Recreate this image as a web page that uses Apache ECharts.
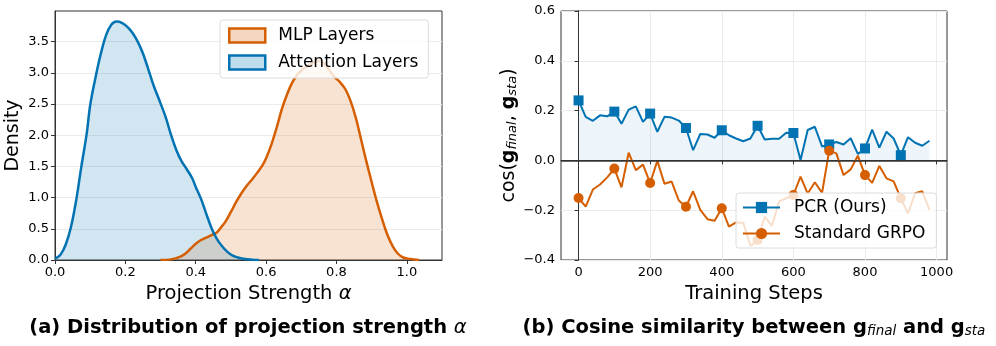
<!DOCTYPE html>
<html>
<head>
<meta charset="utf-8">
<script src="https://cdn.jsdelivr.net/npm/echarts@6/dist/echarts.min.js"></script>
<style>
  html, body { margin: 0; padding: 0; background: #fff; }
  #chart { width: 996px; height: 346px; }
</style>
</head>
<body>
<div id="chart"></div>
<script>
// (a) KDE of projection strength
var attnX = [0.0, 0.015, 0.03, 0.045, 0.06, 0.075, 0.09, 0.10, 0.115, 0.13, 0.145, 0.16, 0.175, 0.19, 0.205, 0.22, 0.235, 0.25, 0.265, 0.28, 0.30, 0.315, 0.33, 0.345, 0.36, 0.375, 0.39, 0.40, 0.415, 0.43, 0.445, 0.46, 0.475, 0.49, 0.505, 0.52, 0.54, 0.56, 0.58];
var attnDensity = [0.02, 0.08, 0.24, 0.52, 0.95, 1.50, 2.02, 2.48, 2.92, 3.30, 3.60, 3.77, 3.82, 3.80, 3.74, 3.64, 3.50, 3.31, 3.06, 2.80, 2.51, 2.28, 2.00, 1.76, 1.58, 1.45, 1.31, 1.17, 0.98, 0.74, 0.51, 0.34, 0.22, 0.13, 0.07, 0.04, 0.015, 0.005, 0.0];
var mlpX = [0.30, 0.33, 0.355, 0.37, 0.385, 0.40, 0.415, 0.43, 0.445, 0.46, 0.47, 0.485, 0.50, 0.515, 0.53, 0.545, 0.56, 0.575, 0.59, 0.60, 0.615, 0.63, 0.645, 0.66, 0.675, 0.69, 0.705, 0.72, 0.735, 0.75, 0.765, 0.78, 0.795, 0.81, 0.825, 0.84, 0.855, 0.87, 0.885, 0.90, 0.915, 0.93, 0.945, 0.96, 0.975, 0.99, 1.01, 1.035];
var mlpDensity = [0.0, 0.01, 0.05, 0.10, 0.18, 0.26, 0.32, 0.36, 0.40, 0.44, 0.51, 0.62, 0.77, 0.93, 1.07, 1.19, 1.29, 1.40, 1.52, 1.63, 1.85, 2.12, 2.42, 2.66, 2.85, 2.98, 3.06, 3.12, 3.16, 3.19, 3.15, 3.04, 2.93, 2.85, 2.74, 2.55, 2.28, 1.93, 1.58, 1.25, 0.93, 0.65, 0.40, 0.22, 0.10, 0.04, 0.015, 0.0];
var alphaTicks = [0, 0.2, 0.4, 0.6, 0.8, 1.0];
var densityTicks = [0, 0.5, 1.0, 1.5, 2.0, 2.5, 3.0, 3.5];

// (b) cosine similarity over training steps (every 20 steps)
var steps = [];
for (var s = 0; s <= 980; s += 20) steps.push(s);
var pcrCos = [0.241, 0.175, 0.159, 0.181, 0.177, 0.196, 0.147, 0.204, 0.217, 0.155,
              0.188, 0.115, 0.175, 0.172, 0.160, 0.130, 0.041, 0.106, 0.104, 0.091,
              0.121, 0.101, 0.088, 0.077, 0.088, 0.139, 0.084, 0.087, 0.087, 0.111,
              0.110, 0.002, 0.122, 0.135, 0.056, 0.064, 0.074, 0.064, 0.089, 0.026,
              0.048, 0.124, 0.051, 0.115, 0.088, 0.021, 0.093, 0.071, 0.059, 0.079];
var grpoCos = [-0.151, -0.186, -0.117, -0.097, -0.068, -0.033, -0.108, 0.031, -0.039, -0.017,
               -0.091, -0.002, -0.094, -0.085, -0.161, -0.186, -0.124, -0.199, -0.236, -0.242,
               -0.192, -0.266, -0.249, -0.250, -0.344, -0.320, -0.226, -0.263, -0.165, -0.152,
               -0.139, -0.065, -0.133, -0.088, -0.131, 0.039, 0.028, -0.059, -0.036, 0.019,
               -0.059, -0.090, -0.022, -0.072, -0.084, -0.152, -0.213, -0.132, -0.124, -0.199];
var stepTicks = [0, 200, 400, 600, 800, 1000];

var BLUE = '#0173b2', ORANGE = '#d55e00';
var FONT = 'DejaVu Sans';

function pairs(xs, ys) {
    return xs.map(function (x, i) { return [x, ys[i]]; });
}
function fmtMinus(v, d) {
    var t = Math.abs(v).toFixed(d);
    return v < -1e-9 ? '\u2212' + t : t;
}

var tickLabel = { fontFamily: FONT, fontSize: 13, color: '#000', margin: 6 };
var frameLine = { show: true, lineStyle: { color: '#333', width: 1 } };
var tickStyle = { show: true, length: 4, lineStyle: { color: '#333' } };
var gridLine = { show: true, lineStyle: { color: '#ebebeb', width: 1 } };

var myChart = echarts.init(document.getElementById('chart'), null, { renderer: 'canvas' });

var option = {
    animation: false,
    backgroundColor: '#fff',
    textStyle: { fontFamily: FONT },
    grid: [
        { left: 55, top: 11, width: 387, height: 249, show: true, borderColor: '#333', borderWidth: 1 },
        { left: 561, top: 11, width: 386, height: 249, show: true, borderColor: '#333', borderWidth: 1 }
    ],
    xAxis: [
        {
            type: 'value', gridIndex: 0, min: 0, max: 1.1,
            name: '{t|Projection Strength }{i|α}', nameLocation: 'middle', nameGap: 21,
            nameTextStyle: { rich: { t: { fontFamily: FONT, fontSize: 19.5, color: '#000' }, i: { fontFamily: FONT, fontSize: 19.5, fontStyle: 'italic', color: '#000' } } },
            axisLine: frameLine, axisTick: Object.assign({ customValues: alphaTicks }, tickStyle),
            axisLabel: Object.assign({ customValues: alphaTicks, formatter: function (v) { return v.toFixed(1); } }, tickLabel),
            splitLine: { show: false }
        },
        {
            type: 'value', gridIndex: 1, min: -49, max: 1029,
            name: 'Training Steps', nameLocation: 'middle', nameGap: 21,
            nameTextStyle: { fontFamily: FONT, fontSize: 19.5, color: '#000' },
            axisLine: frameLine, axisTick: Object.assign({ customValues: stepTicks }, tickStyle),
            axisLabel: Object.assign({ customValues: stepTicks, formatter: function (v) { return String(Math.round(v)); } }, tickLabel),
            splitLine: gridLine
        }
    ],
    yAxis: [
        {
            type: 'value', gridIndex: 0, min: 0, max: 3.99,
            name: 'Density', nameLocation: 'middle', nameGap: 32,
            nameTextStyle: { fontFamily: FONT, fontSize: 19, color: '#000' },
            axisLine: frameLine, axisTick: Object.assign({ customValues: densityTicks }, tickStyle),
            axisLabel: Object.assign({ customValues: densityTicks, formatter: function (v) { return v.toFixed(1); } }, tickLabel),
            splitLine: gridLine
        },
        {
            type: 'value', gridIndex: 1, min: -0.4, max: 0.6, interval: 0.2,
            name: '{n|cos(}{b|g}{s|final}{n|, }{b|g}{s|sta}{n|)}', nameLocation: 'middle', nameGap: 40,
            nameTextStyle: { rich: {
                n: { fontFamily: FONT, fontSize: 19, color: '#000' },
                b: { fontFamily: FONT, fontSize: 19, fontWeight: 'bold', color: '#000' },
                s: { fontFamily: FONT, fontSize: 13, fontStyle: 'italic', color: '#000', padding: [8, 0, 0, 0] }
            } },
            axisLine: frameLine, axisTick: tickStyle,
            axisLabel: Object.assign({ formatter: function (v) { return fmtMinus(v, 1); } }, tickLabel),
            splitLine: gridLine
        }
    ],
    legend: [
        {
            orient: 'vertical', left: 220, top: 20, padding: [7, 10, 7, 8], itemGap: 10,
            itemWidth: 36, itemHeight: 14,
            backgroundColor: 'rgba(255,255,255,0.8)', borderColor: '#dcdcdc', borderWidth: 1, borderRadius: 3,
            textStyle: { fontFamily: FONT, fontSize: 17, color: '#000', padding: [0, 0, 0, 8] },
            data: [
                { name: 'MLP Layers', icon: 'rect', itemStyle: { color: 'rgba(213,94,0,0.25)', borderColor: ORANGE, borderWidth: 2.5 } },
                { name: 'Attention Layers', icon: 'rect', itemStyle: { color: 'rgba(1,115,178,0.25)', borderColor: BLUE, borderWidth: 2.5 } }
            ]
        },
        {
            orient: 'vertical', left: 736, top: 193, padding: [6, 11, 6, 6], itemGap: 9,
            itemWidth: 37, itemHeight: 14,
            backgroundColor: 'rgba(255,255,255,0.8)', borderColor: '#dcdcdc', borderWidth: 1, borderRadius: 3,
            textStyle: { fontFamily: FONT, fontSize: 17, color: '#000', padding: [0, 0, 0, 9] },
            data: ['PCR (Ours)', 'Standard GRPO']
        }
    ],
    graphic: [
        {
            type: 'text', z: 10,
            style: {
                x: 248, y: 328, textAlign: 'center', textVerticalAlign: 'middle',
                text: '{b|(a) Distribution of projection strength }{i|α}',
                rich: {
                    b: { fontFamily: FONT, fontSize: 19.5, fontWeight: 'bold', fill: '#000' },
                    i: { fontFamily: FONT, fontSize: 19.5, fontStyle: 'italic', fill: '#000' }
                }
            }
        },
        {
            type: 'text', z: 10,
            style: {
                x: 754, y: 328, textAlign: 'center', textVerticalAlign: 'middle',
                text: '{b|(b) Cosine similarity between g}{s|final}{b| and g}{s|sta}',
                rich: {
                    b: { fontFamily: FONT, fontSize: 19.5, fontWeight: 'bold', fill: '#000' },
                    s: { fontFamily: FONT, fontSize: 13.5, fontStyle: 'italic', fill: '#000', padding: [7, 0, 0, 0] }
                }
            }
        }
    ],
    series: [
        {
            name: 'MLP Layers', type: 'line', xAxisIndex: 0, yAxisIndex: 0,
            data: pairs(mlpX, mlpDensity), smooth: 0.35, showSymbol: false,
            lineStyle: { color: ORANGE, width: 2.5 }, itemStyle: { color: ORANGE },
            areaStyle: { color: 'rgba(213,94,0,0.25)', origin: 'start' }
        },
        {
            name: 'Attention Layers', type: 'line', xAxisIndex: 0, yAxisIndex: 0,
            data: pairs(attnX, attnDensity), smooth: 0.35, showSymbol: false,
            lineStyle: { color: BLUE, width: 2.5 }, itemStyle: { color: BLUE },
            areaStyle: { color: 'rgba(1,115,178,0.25)', origin: 'start' }
        },
        {
            name: 'PCR (Ours)', type: 'line', xAxisIndex: 1, yAxisIndex: 1,
            data: pairs(steps, pcrCos), symbol: 'rect',
            symbolSize: function (v, p) { return (p && p.dataIndex % 5 !== 0) ? 0 : 10; },
            lineStyle: { color: BLUE, width: 2 }, itemStyle: { color: BLUE },
            areaStyle: { color: 'rgba(1,115,178,0.1)', origin: 0 },
            markLine: {
                silent: true, symbol: 'none', label: { show: false },
                lineStyle: { color: '#333', width: 1.5, type: 'solid' },
                data: [{ yAxis: 0 }]
            }
        },
        {
            name: 'Standard GRPO', type: 'line', xAxisIndex: 1, yAxisIndex: 1,
            data: pairs(steps, grpoCos), symbol: 'circle',
            symbolSize: function (v, p) { return (p && p.dataIndex % 5 !== 0) ? 0 : 10; },
            lineStyle: { color: ORANGE, width: 2 }, itemStyle: { color: ORANGE }
        }
    ]
};

myChart.setOption(option);
</script>
</body>
</html>
